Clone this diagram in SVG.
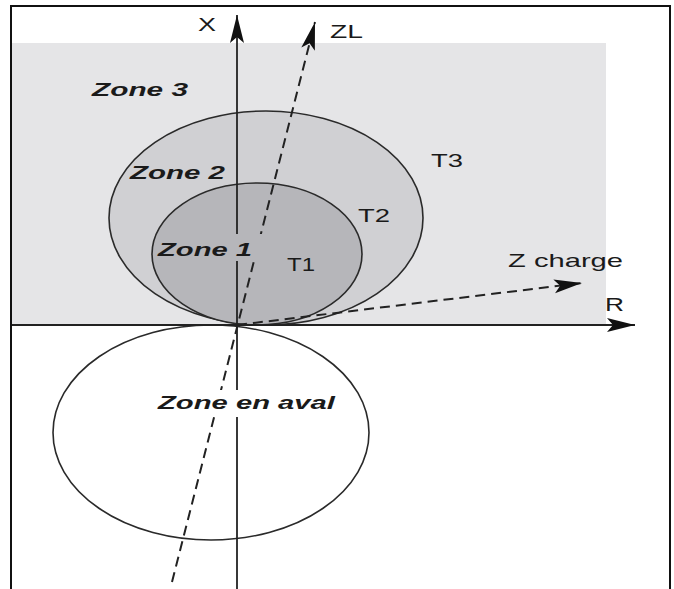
<svg xmlns="http://www.w3.org/2000/svg" width="674" height="589" viewBox="0 0 674 589">
<style>
.zone{font-family:"Liberation Sans",Arial,sans-serif;font-size:19px;font-weight:bold;font-style:italic;fill:#1a1a1a}
.lbl{font-family:"Liberation Sans",Arial,sans-serif;font-size:19px;fill:#1a1a1a}
.ax{stroke:#222;stroke-width:1.8;fill:none}
.dash{stroke:#222;stroke-width:2;fill:none;stroke-dasharray:10 6}
.ell{stroke:#2a2a2a;stroke-width:1.6}
</style>
<defs>
<marker id="ah" markerUnits="userSpaceOnUse" markerWidth="34" markerHeight="18" viewBox="-30 -9 34 18" refX="0" refY="0" orient="auto">
<path d="M0,0 L-28,-7 L-22,0 L-28,7 Z" fill="#111"/>
</marker>
</defs>
<rect width="674" height="589" fill="#fff"/>
<g id="zone3">
<rect x="11" y="43" width="595" height="282" fill="#e5e5e7"/>
<text class="zone" x="92" y="96" textLength="96" lengthAdjust="spacingAndGlyphs">Zone 3</text>
</g>
<g id="zone2">
<ellipse class="ell" cx="266" cy="218" rx="157" ry="107" fill="#d0d0d3"/>
<text class="zone" x="130" y="179" textLength="95" lengthAdjust="spacingAndGlyphs">Zone 2</text>
</g>
<g id="zone1">
<ellipse class="ell" cx="257" cy="254" rx="105" ry="71" fill="#b6b6ba"/>
</g>
<g id="zoneaval">
<ellipse class="ell" cx="211" cy="432.5" rx="158" ry="107.5" fill="none"/>
</g>
<g id="connectors">
<line class="ax" x1="237" y1="589" x2="237" y2="15" marker-end="url(#ah)"/>
<line class="ax" x1="11" y1="325" x2="635" y2="325" marker-end="url(#ah)"/>
<line class="dash" x1="172" y1="582" x2="315" y2="22" marker-end="url(#ah)"/>
<line class="dash" x1="237" y1="325" x2="582" y2="283" marker-end="url(#ah)"/>
</g>
<g id="labels">
<rect x="226" y="234" width="36" height="27" fill="#b6b6ba"/>
<text class="zone" x="158" y="256" textLength="94" lengthAdjust="spacingAndGlyphs">Zone 1</text>
<rect x="200" y="390" width="48" height="27" fill="#fff"/>
<text class="zone" x="158" y="409" textLength="177" lengthAdjust="spacingAndGlyphs">Zone en aval</text>
<text class="lbl" x="431" y="167" textLength="32" lengthAdjust="spacingAndGlyphs">T3</text>
<text class="lbl" x="358" y="222" textLength="32" lengthAdjust="spacingAndGlyphs">T2</text>
<text class="lbl" x="287" y="271" textLength="28" lengthAdjust="spacingAndGlyphs">T1</text>
<text class="lbl" x="198" y="31" textLength="18" lengthAdjust="spacingAndGlyphs">X</text>
<text class="lbl" x="330" y="38" textLength="33" lengthAdjust="spacingAndGlyphs">ZL</text>
<text class="lbl" x="508" y="267" textLength="115" lengthAdjust="spacingAndGlyphs">Z charge</text>
<text class="lbl" x="605" y="311" textLength="19" lengthAdjust="spacingAndGlyphs">R</text>
</g>
<g id="frame" stroke="#111" stroke-width="2" fill="none">
<polyline points="11,589 11,6 670,6 670,589"/>
</g>
</svg>
